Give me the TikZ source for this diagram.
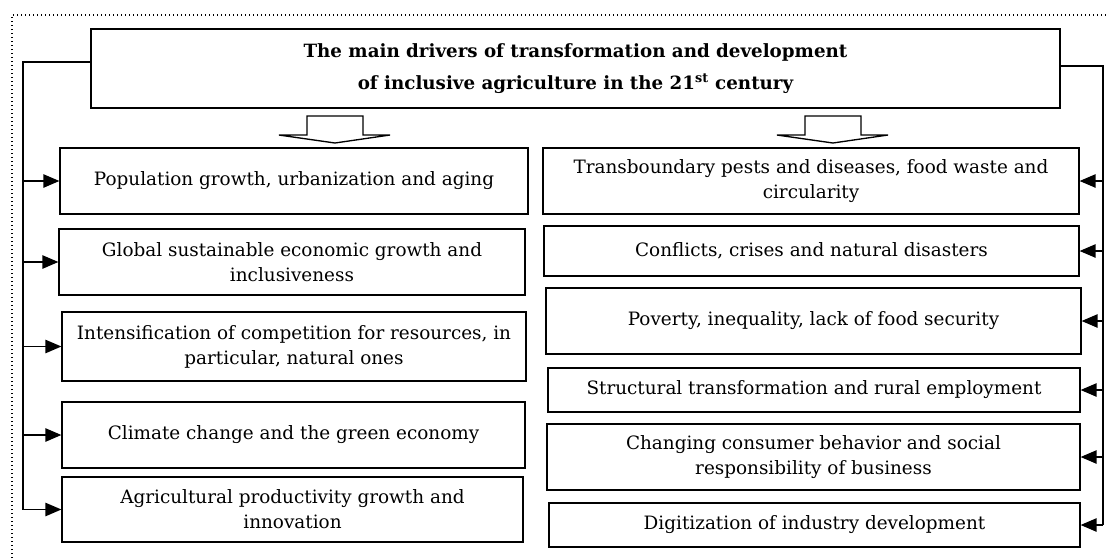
\documentclass[tikz,border=0pt]{standalone}
\usepackage{fontspec}
\setmainfont{DejaVu Serif}
\usetikzlibrary{arrows.meta}
\begin{document}
\begin{tikzpicture}[x=0.75pt,y=-0.75pt,
  box/.style={draw,line width=0.9pt,inner sep=0pt,align=center,font=\fontsize{13.8}{18.75}\selectfont},
  titlebox/.style={draw,line width=1.8pt,inner sep=0pt,align=center,font=\bfseries\fontsize{13.7}{24}\selectfont},
  conn/.style={line width=1.1pt},
  arr/.style={conn,-{Triangle[length=12pt,width=10pt]}},
  hollow/.style={line width=1pt,fill=white}]
\useasboundingbox (0,0) rectangle (1108,558);
\draw[dotted,line width=1pt] (12,558) -- (12,15) -- (1108,15);

\node[titlebox,minimum width=969*0.75pt,minimum height=79*0.75pt] (T) at (575.5,68.5)
  {The main drivers of transformation and development\\of inclusive agriculture in the 21\textsuperscript{st} century};

% hollow arrows
\draw[hollow] (307,116) -- (307,135) -- (279,135) -- (335,143) -- (390,135) -- (363,135) -- (363,116) -- cycle;
\draw[hollow] (805,116) -- (805,135) -- (777,135) -- (833,143) -- (888,135) -- (861,135) -- (861,116) -- cycle;

% left boxes
\node[box,minimum width=468*0.75pt,minimum height=66*0.75pt] (L1) at (294,181) {Population growth, urbanization and aging};
\node[box,minimum width=466*0.75pt,minimum height=66*0.75pt] (L2) at (292,262) {Global sustainable economic growth and\\inclusiveness};
\node[box,minimum width=464*0.75pt,minimum height=69*0.75pt] (L3) at (294,346.5) {Intensification of competition for resources, in\\particular, natural ones};
\node[box,minimum width=463*0.75pt,minimum height=66*0.75pt] (L4) at (293.5,435) {Climate change and the green economy};
\node[box,minimum width=461*0.75pt,minimum height=65*0.75pt] (L5) at (292.5,509.5) {Agricultural productivity growth and\\innovation};

% right boxes
\node[box,minimum width=536*0.75pt,minimum height=66*0.75pt] (R1) at (811,181) {Transboundary pests and diseases, food waste and\\circularity};
\node[box,minimum width=535*0.75pt,minimum height=50*0.75pt] (R2) at (811.5,251) {Conflicts, crises and natural disasters};
\node[box,minimum width=535*0.75pt,minimum height=66*0.75pt] (R3) at (813.5,321) {Poverty, inequality, lack of food security};
\node[box,minimum width=532*0.75pt,minimum height=44*0.75pt] (R4) at (814,390) {Structural transformation and rural employment};
\node[box,minimum width=533*0.75pt,minimum height=66*0.75pt] (R5) at (813.5,457) {Changing consumer behavior and social\\responsibility of business};
\node[box,minimum width=531*0.75pt,minimum height=44*0.75pt] (R6) at (814.5,525) {Digitization of industry development};

% connectors
\coordinate (LT) at (23,62);
\coordinate (RT) at (1103,66);
\draw[conn] (T.west |- LT) -- (LT) -- (LT |- L5.west);
\draw[conn] (T.east |- RT) -- (RT) -- (RT |- R6.east);
\foreach \n in {L1,L2,L3,L4,L5} \draw[arr] (LT |- \n.west) -- (\n.west);
\foreach \n in {R1,R2,R3,R4,R5,R6} \draw[arr] (RT |- \n.east) -- (\n.east);
\end{tikzpicture}
\end{document}
